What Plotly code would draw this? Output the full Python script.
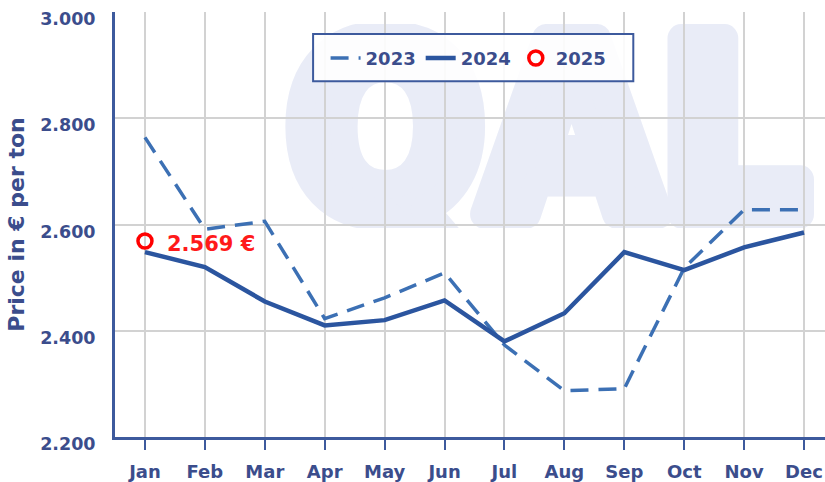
import base64
import plotly.graph_objs as go

# Monthly aluminium prices (EUR per ton)
months = ['Jan', 'Feb', 'Mar', 'Apr', 'May', 'Jun', 'Jul', 'Aug', 'Sep', 'Oct', 'Nov', 'Dec']
prices_2023 = [2764, 2591, 2606, 2423, 2462, 2509, 2373, 2287, 2291, 2518, 2628, 2628]
prices_2024 = [2548, 2520, 2455, 2410, 2420, 2457, 2380, 2433, 2548, 2514, 2557, 2585]
months_2025 = ['Jan']
prices_2025 = [2569]
y_ticks = [2200, 2400, 2600, 2800, 3000]

TEXT = '#3b4d8c'
LINE = '#2b559f'
AXIS = '#3d5a9d'
FONT = 'DejaVu Sans'

x_idx = list(range(len(months)))

fig = go.Figure()

fig.add_trace(go.Scatter(x=x_idx, y=prices_2023, mode='lines', name='2023',
                         line=dict(color='#3c70b4', width=3.5, dash='18px,10px')))
fig.add_trace(go.Scatter(x=x_idx, y=prices_2024, mode='lines', name='2024',
                         line=dict(color=LINE, width=4.5)))
fig.add_trace(go.Scatter(x=[months.index(m) for m in months_2025], y=prices_2025,
                         mode='markers', name='2025',
                         marker=dict(symbol='circle-open', size=14, color='#ff0000',
                                     line=dict(width=3.5, color='#ff0000'))))

# price label for the 2025 point
fig.add_annotation(x=months.index(months_2025[0]), y=prices_2025[0],
                   text='<b>%s €</b>' % f'{prices_2025[0]:,}'.replace(',', '.'),
                   showarrow=False, xanchor='left', xshift=20, yshift=-3,
                   font=dict(family=FONT, size=21, color='#ff1a1a'))

# faint logo watermark behind the grid
svg = ('<svg xmlns="http://www.w3.org/2000/svg" viewBox="-6 -79 238 85" '
       'preserveAspectRatio="none" width="476" height="170">'
       '<text x="0" y="0" font-family="DejaVu Sans" font-weight="bold" font-size="100" '
       'fill="#e9ecf7" stroke="#e9ecf7" stroke-width="12" stroke-linejoin="round">QAL</text>'
       '</svg>')
logo = 'data:image/svg+xml;base64,' + base64.b64encode(svg.encode()).decode()
fig.add_layout_image(source=logo, xref='paper', yref='paper', x=0.224, y=0.972,
                     sizex=0.769, sizey=0.48, xanchor='left', yanchor='top',
                     sizing='stretch', layer='below')

# legend frame
fig.add_shape(type='rect', xref='paper', yref='paper', x0=0.279, x1=0.730, y0=0.837, y1=0.948,
              line=dict(color=AXIS, width=2), fillcolor='rgba(255,255,255,0.88)', layer='above')

fig.update_layout(
    width=825, height=482,
    margin=dict(l=115, r=0, t=12, b=36),
    plot_bgcolor='white', paper_bgcolor='white',
    separators=',.',
    font=dict(family=FONT, color=TEXT, size=16),
    showlegend=True,
    legend=dict(orientation='h', x=0.498, y=0.891, xanchor='center', yanchor='middle',
                borderwidth=0, bgcolor='rgba(0,0,0,0)',
                font=dict(family=FONT, size=18, color=TEXT, weight='bold'),
                itemwidth=30),
    xaxis=dict(range=[-0.5, 11.35], tickvals=x_idx, ticktext=months,
               showgrid=True, gridcolor='#d2d2d2', gridwidth=2,
               showline=True, linecolor=AXIS, linewidth=3,
               ticks='outside', ticklen=10, tickcolor=AXIS, tickwidth=2,
               ticklabelstandoff=6,
               tickfont=dict(family=FONT, size=18, color=TEXT, weight='bold'),
               zeroline=False, fixedrange=True),
    yaxis=dict(range=[2200, 3000], tickvals=y_ticks,
               tickformat=',d', showgrid=True, gridcolor='#d2d2d2', gridwidth=2,
               showline=True, linecolor=AXIS, linewidth=3, ticks='',
               ticklabelstandoff=13, ticklabelshift=7,
               tickfont=dict(family=FONT, size=17.5, color=TEXT, weight='bold'),
               title=dict(text='Price in € per ton', standoff=10,
                          font=dict(family=FONT, size=22, color=TEXT, weight='bold')),
               zeroline=False, fixedrange=True),
)

# drop the default page margin so the figure sits at the window corner
fig.write_html("out.html", config={'displayModeBar': False},
               post_script="document.body.style.margin='0';")
